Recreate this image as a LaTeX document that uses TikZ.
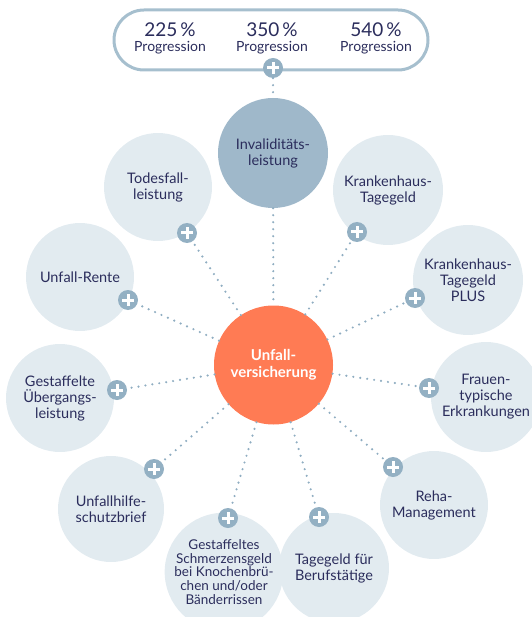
\documentclass[tikz,border=0pt]{standalone}
\usepackage{fontspec}
\setmainfont{Lato}
\definecolor{txt}{HTML}{2B2D5C}
\definecolor{light}{HTML}{E2EBF0}
\definecolor{inv}{HTML}{9FB8CA}
\definecolor{orng}{HTML}{FF7B54}
\definecolor{plusc}{HTML}{93B0C3}
\definecolor{pill}{HTML}{A6BFCE}
\definecolor{dotc}{HTML}{8FADC1}
\tikzset{
  bubble/.style={circle, fill=light, inner sep=0pt, minimum size=108pt, align=center, text=txt, font=\fontsize{14.5}{16}\selectfont},
  plusicon/.style={circle, fill=plusc, inner sep=0pt, minimum size=20pt,
    path picture={\draw[white, line width=3pt] ([xshift=-6pt]path picture bounding box.center) -- ([xshift=6pt]path picture bounding box.center) ([yshift=-6pt]path picture bounding box.center) -- ([yshift=6pt]path picture bounding box.center);}},
  dotline/.style={dotc, line width=2.4pt, line cap=round, dash pattern=on 0pt off 7pt},
  pct/.style={text=txt, font=\fontsize{19}{20}\selectfont, inner sep=0pt},
  prog/.style={text=txt, font=\fontsize{14}{15}\selectfont, inner sep=0pt}
}
\begin{document}
\begin{tikzpicture}[x=1pt,y=-1pt]
\useasboundingbox (0,0) rectangle (531,617);
% outer bubbles
\node[bubble] (tod) at (158,187) {Todesfall-\\leistung};
\node[bubble, minimum size=110pt] (kt) at (388,190) {Krankenhaus-\\Tagegeld};
\node[bubble, minimum size=110pt] (ktp) at (468,280) {Krankenhaus-\\Tagegeld\\PLUS};
\node[bubble] (rente) at (80,277) {Unfall-Rente};
\node[bubble] (ueb) at (60,398) {Gestaffelte\\Übergangs-\\leistung};
\node[bubble, minimum size=110pt] (frau) at (486,397) {Frauen-\\typische\\Erkrankungen};
\node[bubble, minimum size=106pt] (hilfe) at (111,509) {Unfallhilfe-\\schutzbrief};
\node[bubble] (reha) at (434,505) {Reha-\\Management};
\node[bubble, minimum size=114pt, font=\fontsize{13.5}{13.8}\selectfont] (schmerz) at (224,572) {Gestaffeltes\\Schmerzensgeld\\bei Knochenbrü-\\chen und/oder\\Bänderrissen};
\node[bubble, minimum size=110pt] (tage) at (334,568) {Tagegeld für\\Berufstätige};
\node[bubble, fill=inv, minimum size=110pt] (inv) at (273,153) {Invaliditäts-\\leistung};
% pill
\node[draw=pill, line width=3pt, rounded corners=30pt, minimum width=314pt, minimum height=60pt, inner sep=0pt] (pillbox) at (271,40) {};
\node[pct] (p1) at (170,30) {225\,\%};
\node[prog] (g1) at (170,48) {Progression};
\node[pct] (p2) at (272,30) {350\,\%};
\node[prog] (g2) at (272,48) {Progression};
\node[pct] (p3) at (376,30) {540\,\%};
\node[prog] (g3) at (376,48) {Progression};
% plus icons
\node[plusicon] (ptop) at (273,68) {};
\node[plusicon] (ptod) at (187,233) {};
\node[plusicon] (pkt) at (357,232) {};
\node[plusicon] (prente) at (128,300) {};
\node[plusicon] (pktp) at (415,298) {};
\node[plusicon] (pueb) at (117,390) {};
\node[plusicon] (pfrau) at (429,388) {};
\node[plusicon] (philfe) at (154,469) {};
\node[plusicon] (preha) at (393,467) {};
\node[plusicon] (pschmerz) at (228,518) {};
\node[plusicon] (ptage) at (319,517) {};
% center
\node[circle, fill=orng, inner sep=0pt, minimum size=119pt, align=center, text=white, font=\bfseries\fontsize{15}{17}\selectfont] (center) at (273.5,365) {Unfall-\\versicherung};
% connectors
\draw[dotline] (ptop) -- (inv);
\draw[dotline] (inv) -- (center);
\foreach \p in {ptod,pkt,prente,pktp,pueb,pfrau,philfe,preha,pschmerz,ptage}
  \draw[dotline] (center) -- (\p);
\end{tikzpicture}
\end{document}
